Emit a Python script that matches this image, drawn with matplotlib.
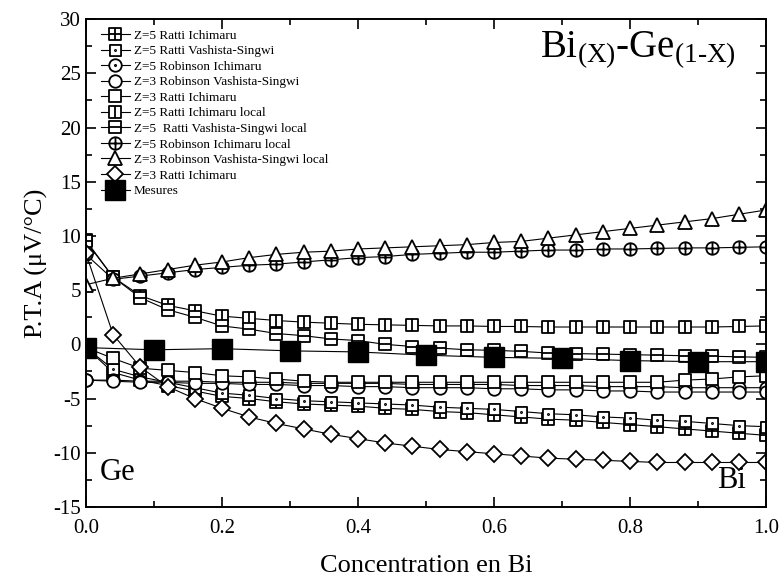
import numpy as np
import matplotlib
matplotlib.use("Agg")
from matplotlib import pyplot as plt
from matplotlib.path import Path

plt.rcParams['font.family'] = ['Liberation Serif', 'DejaVu Serif']
plt.rcParams['mathtext.fontset'] = 'custom'
plt.rcParams['mathtext.rm'] = 'Liberation Serif'
plt.rcParams['mathtext.it'] = 'Liberation Serif:italic'
plt.rcParams['axes.unicode_minus'] = False

# concentration en Bi
x = [0.00, 0.04, 0.08, 0.12, 0.16, 0.20, 0.24, 0.28, 0.32, 0.36, 0.40, 0.44, 0.48,
     0.52, 0.56, 0.60, 0.64, 0.68, 0.72, 0.76, 0.80, 0.84, 0.88, 0.92, 0.96, 1.00]

z5_ratti_ich = [-0.3, -2.6, -3.3, -3.8, -4.3, -4.8, -5.0, -5.3, -5.5, -5.6, -5.7, -5.9, -6.0,
                -6.2, -6.3, -6.5, -6.7, -6.9, -7.0, -7.2, -7.4, -7.6, -7.8, -8.0, -8.2, -8.4]
z5_ratti_vs = [-0.3, -2.3, -3.0, -3.5, -4.0, -4.5, -4.7, -5.0, -5.2, -5.3, -5.4, -5.5, -5.6,
               -5.8, -5.9, -6.0, -6.2, -6.4, -6.5, -6.7, -6.8, -7.0, -7.1, -7.3, -7.5, -7.6]
z5_rob_ich = [-3.3, -3.3, -3.4, -3.4, -3.4, -3.5, -3.5, -3.5, -3.6, -3.6, -3.6, -3.6, -3.7,
              -3.7, -3.7, -3.7, -3.8, -3.8, -3.8, -3.9, -3.9, -3.9, -4.0, -4.0, -4.0, -4.0]
z3_rob_vs = [-3.3, -3.4, -3.5, -3.5, -3.6, -3.6, -3.7, -3.7, -3.8, -3.8, -3.9, -3.9, -4.0,
             -4.0, -4.0, -4.1, -4.1, -4.2, -4.2, -4.3, -4.3, -4.4, -4.4, -4.4, -4.4, -4.4]
z3_ratti_ich = [-0.3, -1.3, -2.2, -2.4, -2.6, -2.9, -3.0, -3.2, -3.4, -3.5, -3.5, -3.5, -3.5,
                -3.5, -3.5, -3.5, -3.5, -3.5, -3.5, -3.5, -3.5, -3.5, -3.3, -3.2, -3.0, -2.9]
z5_ratti_ich_loc = [9.6, 6.2, 4.5, 3.6, 3.1, 2.6, 2.4, 2.2, 2.05, 1.95, 1.85, 1.8, 1.75,
                    1.7, 1.7, 1.65, 1.65, 1.6, 1.6, 1.6, 1.6, 1.6, 1.6, 1.6, 1.65, 1.7]
z5_ratti_vs_loc = [9.5, 6.2, 4.3, 3.2, 2.5, 1.7, 1.4, 1.0, 0.8, 0.5, 0.35, 0.0, -0.2,
                   -0.35, -0.5, -0.55, -0.65, -0.8, -0.85, -0.9, -0.95, -1.0, -1.05, -1.1, -1.15, -1.2]
z5_rob_ich_loc = [8.3, 6.0, 6.3, 6.6, 6.9, 7.1, 7.3, 7.4, 7.6, 7.8, 8.0, 8.1, 8.3,
                  8.4, 8.5, 8.5, 8.6, 8.7, 8.7, 8.8, 8.8, 8.85, 8.9, 8.9, 8.95, 9.0]
z3_rob_vs_loc = [5.5, 6.1, 6.5, 6.9, 7.3, 7.6, 8.0, 8.3, 8.5, 8.6, 8.8, 8.9, 9.0,
                 9.1, 9.2, 9.4, 9.5, 9.8, 10.1, 10.4, 10.7, 11.0, 11.3, 11.6, 12.0, 12.4]
z3_ratti_ich_b = [8.4, 0.9, -2.1, -3.9, -5.0, -5.9, -6.7, -7.3, -7.8, -8.3, -8.7, -9.1, -9.4,
                  -9.7, -9.9, -10.1, -10.3, -10.5, -10.6, -10.7, -10.8, -10.9, -10.9, -10.9, -10.9, -10.9]

x_mes = [0.0, 0.1, 0.2, 0.3, 0.4, 0.5, 0.6, 0.7, 0.8, 0.9, 1.0]
mesures = [-0.3, -0.5, -0.4, -0.6, -0.7, -1.0, -1.2, -1.3, -1.5, -1.6, -1.6]


# custom open markers
M, L, C = Path.MOVETO, Path.LINETO, Path.CLOSEPOLY
square = Path([(-1, -1), (1, -1), (1, 1), (-1, 1), (-1, -1)], [M, L, L, L, C])
vline = Path([(0, -1), (0, 1)], [M, L])
hline = Path([(-1, 0), (1, 0)], [M, L])
dot = Path.circle((0, 0), 0.1)
circ = Path.unit_circle()

sq_plus = Path.make_compound_path(square, vline, hline)
sq_dot = Path.make_compound_path(square, dot)
sq_v = Path.make_compound_path(square, vline)
sq_h = Path.make_compound_path(square, hline)
circ_dot = Path.make_compound_path(circ, dot)
circ_plus = Path.make_compound_path(circ, vline, hline)

series = [
    (z5_ratti_ich, sq_plus, 'Z=5 Ratti Ichimaru', 8),
    (z5_ratti_vs, sq_dot, 'Z=5 Ratti Vashista-Singwi', 8),
    (z5_rob_ich, circ_dot, 'Z=5 Robinson Ichimaru', 9),
    (z3_rob_vs, circ, 'Z=3 Robinson Vashista-Singwi', 9),
    (z3_ratti_ich, square, 'Z=3 Ratti Ichimaru', 8),
    (z5_ratti_ich_loc, sq_v, 'Z=5 Ratti Ichimaru local', 8),
    (z5_ratti_vs_loc, sq_h, 'Z=5  Ratti Vashista-Singwi local', 8),
    (z5_rob_ich_loc, circ_plus, 'Z=5 Robinson Ichimaru local', 9),
    (z3_rob_vs_loc, '^', 'Z=3 Robinson Vashista-Singwi local', 10),
    (z3_ratti_ich_b, 'D', 'Z=3 Ratti Ichimaru', 8),
]

fig = plt.figure(figsize=(7.81, 5.82), dpi=100)
ax = fig.add_axes([0.110, 0.129, 0.871, 0.838])

for vals, mk, name, ms in series:
    ax.plot(x, vals, color='black', lw=0.8, marker=mk, markersize=ms,
            markerfacecolor='white', markeredgecolor='black', markeredgewidth=1.3,
            label=name)

ax.plot(x_mes, mesures, color='black', lw=0.8, marker='s', markersize=15,
        markerfacecolor='black', markeredgecolor='black', label='Mesures')

ax.set_xlim(0, 1.0)
ax.set_ylim(-15, 30)
ax.set_xticks([0.0, 0.2, 0.4, 0.6, 0.8, 1.0])
ax.set_xticklabels(['0.0', '0.2', '0.4', '0.6', '0.8', '1.0'])
ax.set_xticks([0.1, 0.3, 0.5, 0.7, 0.9], minor=True)
ax.set_yticks(range(-15, 31, 5))
ax.set_yticks(np.arange(-12.5, 30, 5), minor=True)
ax.tick_params(which='both', direction='in', top=True, right=True, labelsize=15, width=1.2)
ax.tick_params(which='major', length=7)
ax.tick_params(which='minor', length=4)
ax.tick_params(axis='x', which='major', pad=9)
for s in ax.spines.values():
    s.set_linewidth(1.4)

ax.set_xlabel('Concentration en Bi', fontsize=19, labelpad=12)
ax.set_ylabel('P.T.A (\u03bcV/\u00b0C)', fontsize=19, labelpad=4)

ax.text(0.955, 0.935, r'Bi$_{\rm (X)}$-Ge$_{\rm (1\text{-}X)}$', transform=ax.transAxes,
        fontsize=28, ha='right', va='center')
ax.text(0.02, 0.07, 'Ge', transform=ax.transAxes, fontsize=22, ha='left', va='center')
ax.text(0.97, 0.055, 'Bi', transform=ax.transAxes, fontsize=22, ha='right', va='center')

leg = ax.legend(loc='upper left', bbox_to_anchor=(0.01, 0.995), frameon=False,
                fontsize=9.5, handlelength=2.2, handletextpad=0.3, labelspacing=0.25,
                borderaxespad=0.2)

fig.savefig('out.png', dpi=100)
